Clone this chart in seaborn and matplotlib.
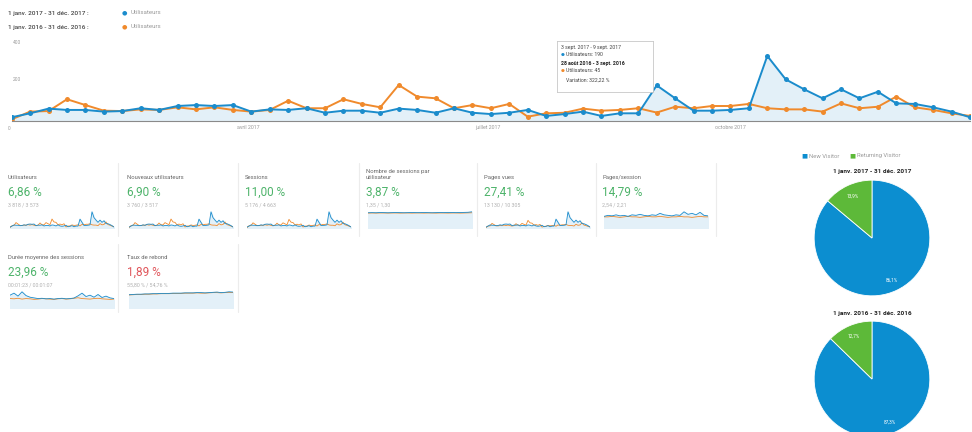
import numpy as np
import pandas as pd
import matplotlib
matplotlib.use("Agg")
import matplotlib.pyplot as plt
import seaborn as sns

# ---------------- data ----------------
users_2017 = [20, 41, 66, 59, 59, 50, 53, 68, 59, 80, 85, 80, 85, 50, 62, 59, 68, 44,
              55, 55, 44, 66, 59, 44, 68, 44, 37, 44, 59, 27, 37, 50, 27, 41, 41,
              190, 121, 55, 55, 59, 68, 347, 222, 169, 121, 169, 121, 156, 94, 91, 73, 50, 20]
users_2016 = [9, 50, 53, 116, 85, 55, 53, 62, 59, 73, 62, 73, 59, 50, 59, 108, 68, 68,
              116, 91, 73, 192, 130, 121, 68, 85, 68, 91, 23, 41, 44, 66, 55, 59, 68,
              45, 76, 68, 80, 80, 91, 68, 62, 62, 50, 94, 68, 76, 130, 73, 59, 41, 27]
y_tick_values = [200, 400]
x_tick_pos = [12.86, 25.86, 39.0]
x_tick_labels = ["avril 2017", "juillet 2017", "octobre 2017"]

period_2017 = "1 janv. 2017 - 31 déc. 2017"
period_2016 = "1 janv. 2016 - 31 déc. 2016"
series_name = "Utilisateurs"

card_titles = ["Utilisateurs", "Nouveaux utilisateurs", "Sessions",
               "Nombre de sessions par\nutilisateur", "Pages vues", "Pages/session",
               "Durée moyenne des sessions", "Taux de rebond"]
card_pcts = ["6,86 %", "6,90 %", "11,00 %", "3,87 %", "27,41 %", "14,79 %", "23,96 %", "1,89 %"]
card_subs = ["3 818 / 3 573", "3 760 / 3 517", "5 176 / 4 663", "1,35 / 1,30",
             "13 130 / 10 305", "2,54 / 2,21", "00:01:23 / 00:01:07", "55,80 % / 54,76 %"]
card_up = [True, True, True, True, True, True, True, False]

spark_spu_2017 = [1.30, 1.31, 1.30, 1.32, 1.31, 1.30, 1.31, 1.32, 1.31, 1.30, 1.31, 1.32, 1.31, 1.31,
                  1.32, 1.31, 1.30, 1.31, 1.32, 1.31, 1.33, 1.32, 1.31, 1.32, 1.33, 1.34, 1.38]
spark_spu_2016 = [1.27, 1.28, 1.27, 1.28, 1.28, 1.27, 1.28, 1.28, 1.27, 1.28, 1.28, 1.27, 1.28, 1.28,
                  1.27, 1.28, 1.28, 1.27, 1.28, 1.28, 1.27, 1.28, 1.28, 1.27, 1.28, 1.29, 1.30]
spark_pps_2017 = [2.3, 2.5, 2.4, 2.6, 2.4, 2.5, 2.3, 2.6, 2.5, 2.7, 2.5, 2.4, 2.6, 2.5,
                  2.9, 2.6, 2.5, 2.4, 2.6, 2.5, 3.2, 2.7, 2.9, 2.6, 3.1, 2.5, 2.4]
spark_pps_2016 = [2.2, 2.2, 2.3, 2.2, 2.1, 2.2, 2.3, 2.2, 2.2, 2.1, 2.2, 2.3, 2.2, 2.2,
                  2.3, 2.2, 2.1, 2.2, 2.2, 2.3, 2.2, 2.2, 2.1, 2.2, 2.3, 2.2, 2.2]
spark_dur_2017 = [95, 110, 88, 120, 92, 80, 75, 70, 72, 68, 70, 66, 70, 72,
                  68, 70, 74, 90, 110, 85, 95, 80, 100, 78, 88, 75, 70]
spark_dur_2016 = [70, 68, 72, 66, 70, 68, 64, 66, 70, 68, 66, 64, 68, 70,
                  66, 68, 72, 76, 70, 68, 66, 70, 72, 68, 66, 64, 66]
spark_reb_2017 = [50, 51, 52, 52, 53, 53, 54, 54, 55, 55, 55, 56, 56, 56,
                  57, 57, 57, 58, 58, 57, 58, 59, 60, 58, 59, 61, 60]
spark_reb_2016 = [49, 50, 51, 51, 52, 52, 53, 53, 54, 54, 54, 55, 55, 55,
                  56, 56, 56, 57, 56, 56, 57, 58, 58, 57, 58, 59, 58]

pie_labels = ["New Visitor", "Returning Visitor"]
pie_2017 = [86.1, 13.9]
pie_2016 = [87.3, 12.7]

tooltip_lines = ["3 sept. 2017 - 9 sept. 2017", "Utilisateurs: 190",
                 "28 août 2016 - 3 sept. 2016", "Utilisateurs: 45", "Variation: 322,22 %"]

# ---------------- style ----------------
sns.set_style("white")
plt.rcParams['font.family'] = ['Roboto', 'DejaVu Sans']

BLUE = "#1b8ccc"
ORANGE = "#f08a2c"
FILL = "#e3f0f8"
GREEN = "#4db36a"
RED = "#e0565b"
PIE_BLUE = "#0c8ed0"
PIE_GREEN = "#5db939"
TXT = "#444444"
GRAY = "#9a9a9a"

W, H = 972, 432
fig = plt.figure(figsize=(W / 100, H / 100), dpi=100)
fig.patch.set_facecolor("white")


def px_axes(x, y, w, h):
    return fig.add_axes([x / W, 1 - (y + h) / H, w / W, h / H])


def ftext(x, y, s, **kw):
    fig.text(x / W, 1 - y / H, s, **kw)


# ---------------- legend top ----------------
ftext(8, 13, period_2017 + " :", fontsize=4.6, color=TXT, va="center", fontweight="medium")
ftext(122, 13, "●", fontsize=4.5, color=BLUE, va="center")
ftext(131, 13, series_name, fontsize=4.4, color=GRAY, va="center")
ftext(8, 27, period_2016 + " :", fontsize=4.6, color=TXT, va="center", fontweight="medium")
ftext(122, 27, "●", fontsize=4.5, color=ORANGE, va="center")
ftext(131, 27, series_name, fontsize=4.4, color=GRAY, va="center")

# ---------------- main chart ----------------
n = len(users_2017)
weeks = np.arange(n)
df = pd.DataFrame({"week": np.concatenate([weeks, weeks]),
                   "value": users_2017 + users_2016,
                   "period": [period_2017] * n + [period_2016] * n})
ax = px_axes(11.7, 46, 958.3, 75)
ax.fill_between(weeks, users_2017, 0, color=FILL, zorder=0)
sns.lineplot(data=df, x="week", y="value", hue="period", hue_order=[period_2016, period_2017],
             palette={period_2017: BLUE, period_2016: ORANGE}, marker="o", markersize=3.6,
             markeredgewidth=0, linewidth=1.4, legend=False, ax=ax)
ax.set_xlim(0, n - 1)
ax.set_ylim(0, 400)
ax.set_xticks(x_tick_pos)
ax.set_xticklabels(x_tick_labels, fontsize=3.8, color=GRAY)
ax.tick_params(axis="x", length=0, pad=3)
ax.set_yticks([])
ax.set_xlabel("")
ax.set_ylabel("")
for s in ["top", "right", "left"]:
    ax.spines[s].set_visible(False)
ax.spines["bottom"].set_color("#8a8a8a")
ax.spines["bottom"].set_linewidth(0.8)
ax.patch.set_alpha(0)
for i, v in enumerate(y_tick_values):
    ypix = 121 - v / 400 * 75
    ftext(13, ypix - 4, str(v), fontsize=3.6, color=GRAY, va="center")
ftext(8, 128, "0", fontsize=3.4, color=GRAY, va="center")

# tooltip
tx, ty, tw, th = 557, 41, 96, 51
tax = px_axes(tx, ty, tw, th)
tax.set_xticks([]); tax.set_yticks([])
for s in tax.spines.values():
    s.set_color("#c8c8c8"); s.set_linewidth(0.6)
tax.set_facecolor("white")
ys = [47, 55, 63, 71, 80]
ftext(561, ys[0], tooltip_lines[0], fontsize=3.7, color=TXT, va="center")
ftext(561, ys[1], "●", fontsize=3.2, color=BLUE, va="center")
ftext(566, ys[1], tooltip_lines[1], fontsize=3.7, color=TXT, va="center")
ftext(561, ys[2], tooltip_lines[2], fontsize=3.7, color="#222222", va="center", fontweight="bold")
ftext(561, ys[3], "●", fontsize=3.2, color=ORANGE, va="center")
ftext(566, ys[3], tooltip_lines[3], fontsize=3.7, color=TXT, va="center")
ftext(566, ys[4], tooltip_lines[4], fontsize=3.7, color=TXT, va="center")

# ---------------- metric cards ----------------
spark_sets = [
    (users_2017, users_2016), ([int(v * 0.98) for v in users_2017], [int(v * 0.98) for v in users_2016]),
    ([int(v * 1.35) for v in users_2017], [int(v * 1.3) for v in users_2016]),
    (spark_spu_2017, spark_spu_2016),
    ([int(v * 3.4) for v in users_2017], [int(v * 2.9) for v in users_2016]),
    (spark_pps_2017, spark_pps_2016), (spark_dur_2017, spark_dur_2016), (spark_reb_2017, spark_reb_2016),
]
card_x = [8, 127, 245, 366, 484, 602, 8, 127]
card_row = [0, 0, 0, 0, 0, 0, 1, 1]
for k in range(8):
    x0 = card_x[k]
    dy = 80 * card_row[k]
    ftext(x0, 180 + dy, card_titles[k], fontsize=4.2, color="#666666", va="bottom", linespacing=1.3)
    ftext(x0, 192 + dy, card_pcts[k], fontsize=8.5, color=GREEN if card_up[k] else RED, va="center")
    ftext(x0, 205 + dy, card_subs[k], fontsize=3.8, color="#b0b0b0", va="center")
    a, b = spark_sets[k]
    m = len(a)
    sax = px_axes(x0 + 2, 211 + dy, 104, 17)
    sax.fill_between(np.arange(m), a, 0, color=FILL, zorder=0)
    sns.lineplot(x=np.arange(m), y=b, color=ORANGE, linewidth=0.6, ax=sax)
    sns.lineplot(x=np.arange(m), y=a, color=BLUE, linewidth=0.6, ax=sax)
    top = max(max(a), max(b))
    sax.set_ylim(0, top * 1.05)
    sax.set_xlim(0, m - 1)
    sax.axis("off")

# separators
for xs in [118, 238, 359, 477, 596, 716]:
    fig.add_artist(plt.Line2D([xs / W, xs / W], [1 - 163 / H, 1 - 236 / H], color="#ececec", lw=0.8))
for xs in [118, 238]:
    fig.add_artist(plt.Line2D([xs / W, xs / W], [1 - 244 / H, 1 - 312 / H], color="#ececec", lw=0.8))

# ---------------- pies ----------------
ftext(801, 156, "■", fontsize=4.6, color=PIE_BLUE, va="center")
ftext(809, 156, pie_labels[0], fontsize=4.2, color=GRAY, va="center")
ftext(849, 156, "■", fontsize=4.6, color=PIE_GREEN, va="center")
ftext(857, 156, pie_labels[1], fontsize=4.2, color=GRAY, va="center")


def draw_pie(cy, vals, title):
    ftext(872, cy - 66, title, fontsize=4.6, color="#222222", va="center", ha="center", fontweight="bold")
    pax = px_axes(872 - 59, cy - 59, 118, 118)
    pax.pie(vals, colors=[PIE_BLUE, PIE_GREEN], startangle=90, counterclock=False,
            wedgeprops=dict(edgecolor="white", linewidth=0.6),
            autopct=lambda p: f"{p:.1f}%".replace(".", ","), pctdistance=0.8,
            textprops=dict(color="white", fontsize=3.4))
    pax.set_xlim(-1.02, 1.02)
    pax.set_ylim(-1.02, 1.02)
    pax.set_aspect("equal")


draw_pie(238, pie_2017, period_2017)
draw_pie(379, pie_2016, period_2016)

fig.savefig("out.png", dpi=100, facecolor="white")
